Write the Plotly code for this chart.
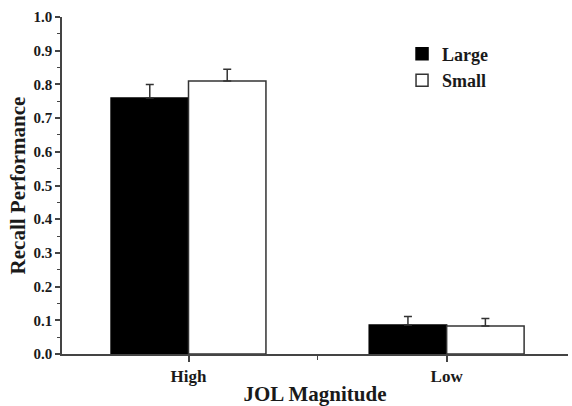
import plotly.graph_objects as go

categories = ["High", "Low"]
large_vals = [0.76, 0.086]
small_vals = [0.81, 0.083]
large_err = [0.04, 0.025]
small_err = [0.035, 0.022]
series_names = ["Large", "Small"]

xpos = list(range(len(categories)))
font_fam = "Liberation Serif, Times New Roman, serif"
ink = "#1a1a1a"

fig = go.Figure()
fig.add_trace(go.Bar(
    x=[p - 0.15 for p in xpos], y=large_vals, width=0.3, name=series_names[0],
    marker=dict(color="black", line=dict(color="black", width=1.5)),
    error_y=dict(type="data", symmetric=False, array=large_err, arrayminus=[0]*len(large_err),
                 color="#333333", thickness=1.5, width=4),
))
fig.add_trace(go.Bar(
    x=[p + 0.15 for p in xpos], y=small_vals, width=0.3, name=series_names[1],
    marker=dict(color="white", line=dict(color="#333333", width=1.5)),
    error_y=dict(type="data", symmetric=False, array=small_err, arrayminus=[0]*len(small_err),
                 color="#333333", thickness=1.5, width=4),
))

fig.update_layout(
    width=572, height=406,
    margin=dict(l=62, r=4, t=17, b=52, autoexpand=False),
    plot_bgcolor="white", paper_bgcolor="white",
    font=dict(family=font_fam, color=ink),
    barmode="overlay",
    showlegend=True,
    legend=dict(x=0.672, y=0.945, xanchor="left", yanchor="top",
                font=dict(size=18, family=font_fam, color=ink, weight="bold"),
                bgcolor="rgba(0,0,0,0)", tracegroupgap=0),
    xaxis=dict(
        range=[-0.49, 1.47], tickmode="array", tickvals=xpos, ticktext=categories,
        showline=True, linecolor="#444444", linewidth=1.5, mirror=False,
        ticks="outside", ticklen=6, tickwidth=1.5, tickcolor="#444444",
        minor=dict(tickmode="array", tickvals=[0.5], ticks="outside", ticklen=4,
                   tickwidth=1, tickcolor="#444444"),
        showgrid=False, zeroline=False, automargin=False,
        tickfont=dict(size=17, family=font_fam, weight="bold", color=ink),
        title=dict(text="JOL Magnitude", font=dict(size=21, family=font_fam, weight="bold", color=ink),
                   standoff=2),
    ),
    yaxis=dict(
        range=[0, 1.0], dtick=0.1, tickformat=".1f",
        showline=True, linecolor="#444444", linewidth=1.5,
        ticks="outside", ticklen=5, tickwidth=1.5, tickcolor="#444444",
        minor=dict(dtick=0.05, ticks="outside", ticklen=3, tickwidth=1, tickcolor="#444444"),
        showgrid=False, zeroline=False, automargin=False,
        tickfont=dict(size=15, family=font_fam, weight="bold", color=ink),
        title=dict(text="Recall Performance", font=dict(size=21, family=font_fam, weight="bold", color=ink),
                   standoff=2),
    ),
)

fig.write_html("out.html", config={"displayModeBar": False},
               post_script="document.body.style.margin='0';document.body.style.overflow='hidden';")
